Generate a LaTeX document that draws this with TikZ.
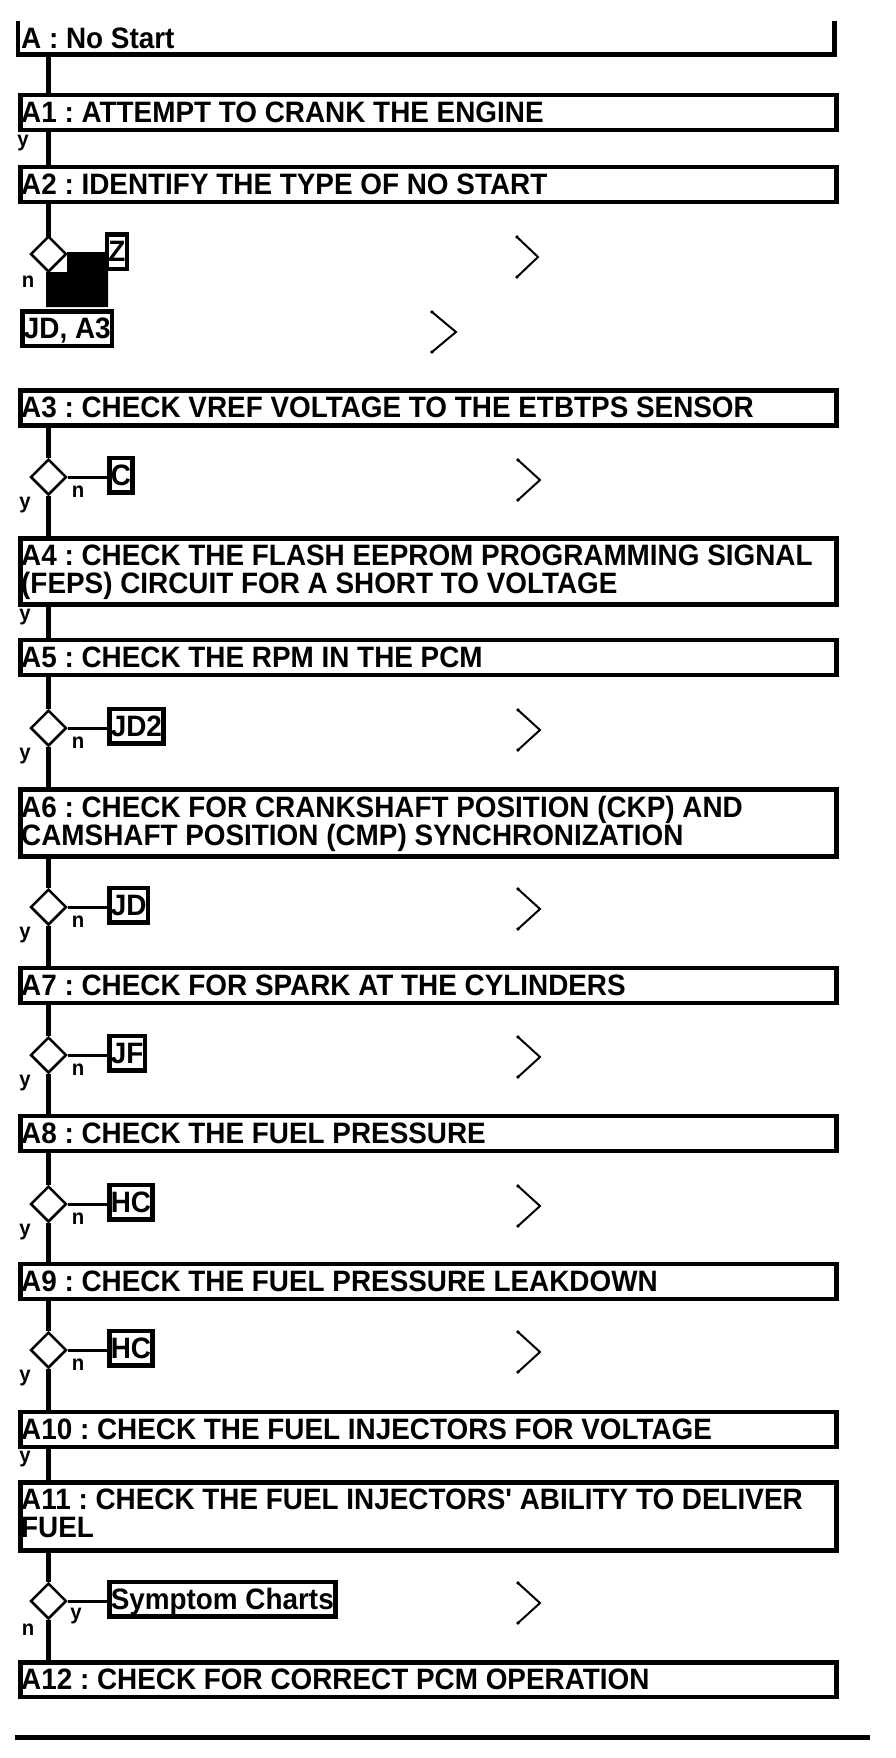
\documentclass[tikz,border=0pt]{standalone}
\usepackage{fontspec}
\newfontfamily\hf{Liberation Sans}[FakeStretch=0.945]
\usetikzlibrary{shapes.geometric}
\newcommand{\HdFont}{\hf\bfseries\fontsize{29.5}{28}\selectfont\frenchspacing}
\newcommand{\LbFont}{\hf\bfseries\fontsize{21.5}{21}\selectfont}
\begin{document}
\begin{tikzpicture}[x=1pt,y=-1pt,
 hbox/.style={draw, line width=4.5pt, minimum width=816pt, inner sep=0pt, anchor=north west},
 htxt/.style={anchor=north west, inner sep=0pt, align=left, font=\HdFont},
 tbox/.style={draw, fill=white, line width=4.5pt, inner xsep=1.5pt, inner ysep=7.1pt, text height=20.3pt, text depth=0pt, font=\HdFont},
 dec/.style={diamond, draw, fill=white, line width=2.5pt, minimum width=36pt, minimum height=36pt, inner sep=0pt},
 vline/.style={line width=4.3pt},
 cline/.style={line width=3pt},
 lab/.style={font=\LbFont, inner sep=0pt},
 chev/.style={line width=2pt, line cap=round},
]
\useasboundingbox (0,0) rectangle (896,1758);
\fill[white] (0,0) rectangle (896,1758);
\coordinate (col) at (48.5,0);

% A box (open top)
\node[minimum width=816pt, minimum height=32.5pt, inner sep=0pt, anchor=north west] (a) at (18,21.5) {};
\draw[line width=4.5pt] (a.north west) -- (a.south west) -- (a.south east) -- (a.north east);
\node[htxt] (a0t) at ([shift={(3,6.5)}]a.north west) {A : No Start};

% heading boxes
\node[hbox, minimum height=35pt] (a1) at (18,93) {};
\node[htxt] (a1t) at ([shift={(3,9)}]a1.north west) {A1 : ATTEMPT TO CRANK THE ENGINE};
\node[hbox, minimum height=35pt] (a2) at (18,164.5) {};
\node[htxt] (a2t) at ([shift={(3,9)}]a2.north west) {A2 : IDENTIFY THE TYPE OF NO START};
\node[hbox, minimum height=35pt] (a3) at (18,388) {};
\node[htxt] (a3t) at ([shift={(3,9)}]a3.north west) {A3 : CHECK VREF VOLTAGE TO THE ETBTPS SENSOR};
\node[hbox, minimum height=66pt] (a4) at (18,536) {};
\node[htxt] (a4t) at ([shift={(3,9)}]a4.north west) {A4 : CHECK THE FLASH EEPROM PROGRAMMING SIGNAL\\(FEPS) CIRCUIT FOR A SHORT TO VOLTAGE};
\node[hbox, minimum height=35pt] (a5) at (18,637.5) {};
\node[htxt] (a5t) at ([shift={(3,9)}]a5.north west) {A5 : CHECK THE RPM IN THE PCM};
\node[hbox, minimum height=67pt] (a6) at (18,787) {};
\node[htxt] (a6t) at ([shift={(3,9)}]a6.north west) {A6 : CHECK FOR CRANKSHAFT POSITION (CKP) AND\\CAMSHAFT POSITION (CMP) SYNCHRONIZATION};
\node[hbox, minimum height=35pt] (a7) at (18,965.5) {};
\node[htxt] (a7t) at ([shift={(3,9)}]a7.north west) {A7 : CHECK FOR SPARK AT THE CYLINDERS};
\node[hbox, minimum height=35pt] (a8) at (18,1113.5) {};
\node[htxt] (a8t) at ([shift={(3,9)}]a8.north west) {A8 : CHECK THE FUEL PRESSURE};
\node[hbox, minimum height=35pt] (a9) at (18,1261.5) {};
\node[htxt] (a9t) at ([shift={(3,9)}]a9.north west) {A9 : CHECK THE FUEL PRESSURE LEAKDOWN};
\node[hbox, minimum height=35pt] (a10) at (18,1409.5) {};
\node[htxt] (a10t) at ([shift={(3,9)}]a10.north west) {A10 : CHECK THE FUEL INJECTORS FOR VOLTAGE};
\node[hbox, minimum height=68pt] (a11) at (18,1480) {};
\node[htxt] (a11t) at ([shift={(3,9)}]a11.north west) {A11 : CHECK THE FUEL INJECTORS' ABILITY TO DELIVER\\FUEL};
\node[hbox, minimum height=34.5pt] (a12) at (18,1660) {};
\node[htxt] (a12t) at ([shift={(3,9)}]a12.north west) {A12 : CHECK FOR CORRECT PCM OPERATION};

% straight connectors
\draw[vline] (a.south -| col) -- (a1.north -| col);
\draw[vline] (a1.south -| col) -- (a2.north -| col);
\draw[vline] (a4.south -| col) -- (a5.north -| col);
\draw[vline] (a10.south -| col) -- (a11.north -| col);
\node[lab] (l1y) at (23,143) {y};
\node[lab] (l4y) at (25,617) {y};
\node[lab] (l10y) at (25,1459) {y};

% A2 branch
\fill (67,252) -- (108,252) -- (108,307) -- (46,307) -- (46,272) -- (67,272) -- cycle;
\draw[vline] (a2.south -| col) -- (col |- 238,238);
\node[dec] (d2) at (48.5,254) {};
\node[tbox] (t2z) at (117,251.5) {Z};
\node[tbox, anchor=north west] (t2j) at (20.2,309.2) {JD, A3};
\node[lab] (l2n) at (28,282) {n};

% decisions
\foreach \d/\top/\bot/\yy/\txt in {d3/a3/a4/477/C, d5/a5/a6/728/JD2, d6/a6/a7/907/JD, d7/a7/a8/1055/JF, d8/a8/a9/1204/HC, d9/a9/a10/1350/HC}{
  \node[dec] (\d) at (48.5,\yy) {};
  \node[tbox, anchor=west] (t\d) at (107,\yy-2) {\txt};
  \draw[vline] (\top.south -| \d) -- (\d.north);
  \draw[vline] (\d.south) -- (\bot.north -| \d);
  \draw[cline] (\d.east) -- (\d.east -| t\d.west);
  \node[lab] (n\d) at (78,\yy+15) {n};
  \node[lab] (y\d) at (25,\yy+28) {y};
}
\node[dec] (d11) at (48.5,1601) {};
\node[tbox, anchor=west] (td11) at (107,1599) {Symptom Charts};
\draw[vline] (a11.south -| d11) -- (d11.north);
\draw[vline] (d11.south) -- (a12.north -| d11);
\draw[cline] (d11.east) -- (d11.east -| td11.west);
\node[lab] (yd11) at (76,1616) {y};
\node[lab] (nd11) at (28,1630) {n};

% chevrons
\foreach \cx/\cy/\w in {517/257/21, 432/332/24, 518/480/22, 518/730/22, 518/909/22, 518/1057/22, 518/1206/22, 518/1352/22, 518/1603/22}{
  \draw[chev] (\cx,\cy-20) -- (\cx+\w,\cy) -- (\cx,\cy+20);
  \fill (\cx,\cy-20) circle (1.9pt);
  \fill (\cx,\cy+20) circle (1.9pt);
}

% bottom rule
\draw[line width=5pt] (15,1737) -- (870,1737);
\end{tikzpicture}
\end{document}
